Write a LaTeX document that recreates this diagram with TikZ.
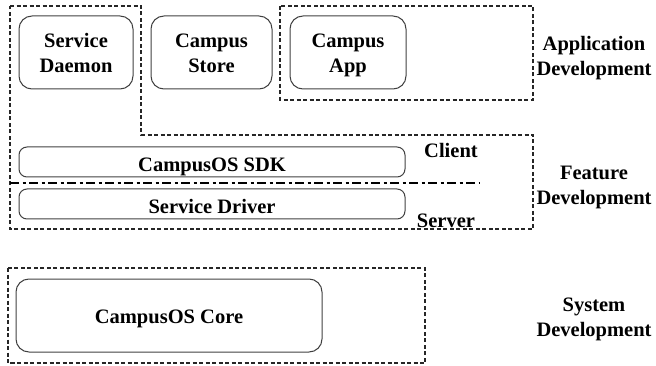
\documentclass[tikz,border=0pt]{standalone}
\usepackage{fontspec}
\setmainfont{Liberation Serif}
\usepackage{tikz}
\usetikzlibrary{positioning}

\begin{document}
\begin{tikzpicture}[x=1pt,y=-1pt,
        every node/.style={font=\fontsize{20.5}{25}\selectfont\bfseries},
        block/.style={draw=black!75,line width=1pt,rounded corners=13pt,align=center,inner sep=0pt,text depth=0pt},
        tallblock/.style={block,minimum height=73pt,text height=41pt},
        flatblock/.style={block,rounded corners=8pt,minimum width=386pt,minimum height=30pt,text height=19pt},
        layer/.style={draw=black!85,line width=1.1pt,dash pattern=on 4pt off 2.5pt},
        divider/.style={line width=2pt,dash pattern=on 9pt off 3.5pt on 3pt off 3.5pt},
        layername/.style={align=center}]

        \useasboundingbox (0,0) rectangle (656,366);

        % dashed layer frames
        \draw[layer] (10,6) -- (141,6) -- (141,135) -- (533,135) -- (533,229) -- (10,229) -- cycle;
        \draw[layer] (280,6) rectangle (533,100);
        \draw[layer] (8,268) rectangle (425,363);

        % application layer
        \node[tallblock, minimum width=114pt] (daemon) at (76,52.5) {Service\\Daemon};
        \node[tallblock, minimum width=121pt] (store) at (211.5,52.5) {Campus\\Store};
        \node[tallblock, minimum width=116pt] (app) at (348,52.5) {Campus\\App};

        % feature layer
        \node[flatblock] (sdk) at (212,162) {CampusOS SDK};
        \node[flatblock] (driver) at (212,204) {Service Driver};
        \coordinate (split west) at (10,183);
        \coordinate (split east) at (480,183);
        \draw[divider] (split west) -- (split east);
        \node (client) at (451,150) {Client};
        \node (server) at (446,221) {Server};

        % system layer
        \node[block, minimum width=306pt, minimum height=73pt, text height=16pt]
            (core) at (169,315.5) {CampusOS Core};

        % layer names
        \node[layername] (appdev) at (594,58) {Application\\Development};
        \node[layername] (featdev) at (594,187) {Feature\\Development};
        \node[layername] (sysdev) at (594,319) {System\\Development};
    \end{tikzpicture}
\end{document}
